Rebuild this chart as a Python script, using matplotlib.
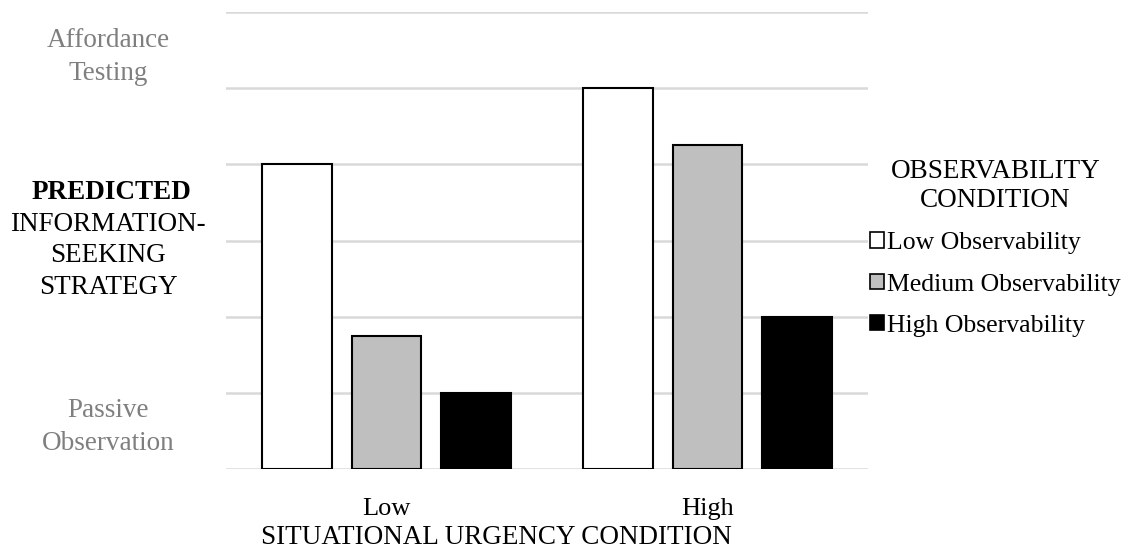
import matplotlib.pyplot as plt
from matplotlib.patches import Patch
import numpy as np

plt.rcParams['font.family'] = ['Liberation Serif', 'DejaVu Serif']

urgency = ["Low", "High"]
series_names = ["Low Observability", "Medium Observability", "High Observability"]
low_obs = [4, 5]
medium_obs = [1.75, 4.25]
high_obs = [1, 2]

fills = ["white", "#bfbfbf", "black"]
grid_color = "#d9d9d9"
soft_text = "#7f7f7f"

fig = plt.figure(figsize=(11.22, 5.5), dpi=100)
ax = fig.add_axes([226 / 1122, 1 - 469 / 550, (868 - 226) / 1122, (469 - 12) / 550])

x = np.arange(len(urgency))
width = 0.218
step = 0.278
for i, (vals, color) in enumerate(zip([low_obs, medium_obs, high_obs], fills)):
    ax.bar(x + (i - 1) * step, vals, width, color=color, edgecolor="black",
           linewidth=1.5, zorder=3, label=series_names[i])

ax.set_xlim(-0.5, 1.5)
ax.set_ylim(0, 6)
ax.set_yticks(np.arange(0, 7, 1))
ax.set_yticklabels([])
ax.yaxis.grid(True, color=grid_color, linewidth=1.8, zorder=0)
ax.tick_params(axis="y", length=0)
ax.set_xticks(x)
ax.set_xticklabels(urgency, fontsize=19)
ax.tick_params(axis="x", length=0, pad=21)
for side in ["top", "right", "left", "bottom"]:
    ax.spines[side].set_visible(False)

fig.text(496 / 1122, 1 - 538 / 550, "SITUATIONAL URGENCY CONDITION",
         ha="center", va="center", fontsize=19.5)

# y-axis descriptions on the left
cx = 108 / 1122
fig.text(cx, 1 - 57 / 550, "Affordance\nTesting", ha="center", va="center",
         fontsize=19.5, color=soft_text, linespacing=1.45)
fig.text(cx, 1 - 427 / 550, "Passive\nObservation", ha="center", va="center",
         fontsize=19.5, color=soft_text, linespacing=1.45)
fig.text(111 / 1122, 1 - 193 / 550, "PREDICTED", ha="center", va="center",
         fontsize=19.5, fontweight="bold")
fig.text(cx, 1 - 256 / 550, "INFORMATION-\nSEEKING\nSTRATEGY", ha="center", va="center",
         fontsize=19.5, linespacing=1.35)

handles = [Patch(facecolor=c, edgecolor="black", linewidth=1.2) for c in fills]
leg = fig.legend(handles, series_names, title="OBSERVABILITY\nCONDITION",
                 loc="center left", bbox_to_anchor=(860 / 1122, 1 - 248 / 550),
                 frameon=False, fontsize=18.5, title_fontsize=19.5,
                 handlelength=0.55, handleheight=0.55, handletextpad=0.1,
                 labelspacing=0.75, borderaxespad=0)
leg.get_title().set_multialignment("center")
leg.get_title().set_linespacing(1.2)

fig.savefig("out.png", dpi=100)
